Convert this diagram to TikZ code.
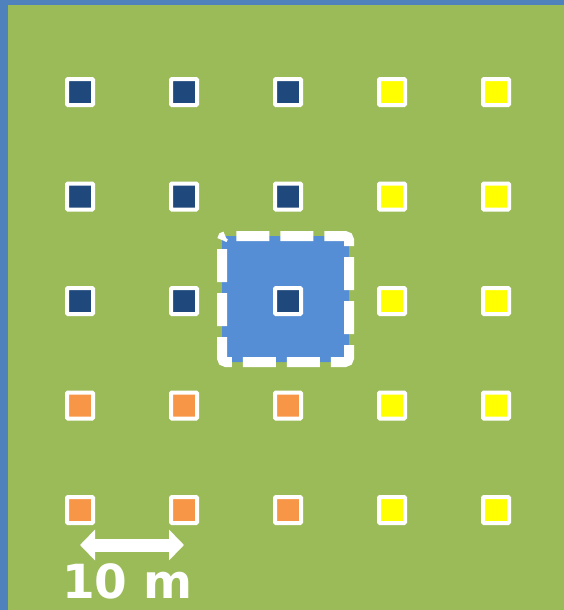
\documentclass[tikz,border=0pt]{standalone}
\usepackage{fontspec}
\setsansfont{DejaVu Sans}
\usetikzlibrary{arrows.meta}

\definecolor{fieldgreen}{HTML}{9BBB59}
\definecolor{frameblue}{HTML}{4F81BD}
\definecolor{plotblue}{HTML}{558ED5}
\definecolor{darkblue}{HTML}{1F497D}
\definecolor{plotorange}{HTML}{F79646}
\definecolor{plotyellow}{HTML}{FFFF00}

\tikzset{
  marker/.style={draw=white, line width=4pt, minimum size=26pt, inner sep=0pt,
    rounded corners=1pt, fill=#1},
  ruler/.style={white, line width=13pt,
    {Triangle[length=15pt,width=30pt]}-{Triangle[length=15pt,width=30pt]}}
}

\begin{document}
\begin{tikzpicture}[x=1pt, y=-1pt]
        % Background with frame
        \fill[frameblue] (0,0) rectangle (564,610);
        \fill[fieldgreen] (8,5) rectangle (564,610);

        % Highlighted plot
        \draw[white, line width=10pt, fill=plotblue, dash pattern=on 33pt off 11pt,
            dash phase=35pt, rounded corners=4pt] (222,236) rectangle (349,362);

        % Sampling points
        \foreach \r in {1,2,3}
            \foreach \c in {1,2,3}
                \node[marker=darkblue] (p-\r-\c) at ({80+104*(\c-1)}, {92+104.5*(\r-1)}) {};
        \foreach \r in {4,5}
            \foreach \c in {1,2,3}
                \node[marker=plotorange] (p-\r-\c) at ({80+104*(\c-1)}, {92+104.5*(\r-1)}) {};
        \foreach \r in {1,...,5}
            \foreach \c in {4,5}
                \node[marker=plotyellow] (p-\r-\c) at ({80+104*(\c-1)}, {92+104.5*(\r-1)}) {};

        % Scale bar
        \path (p-5-1.center) ++(0,35) coordinate (ruler-l);
        \path (p-5-2.center) ++(0,35) coordinate (ruler-r);
        \draw[ruler] (ruler-l) -- (ruler-r);
        \node[white, anchor=base, inner sep=0pt, text depth=0pt,
            font=\sffamily\bfseries\fontsize{47}{47}\selectfont]
            (scale-label) at (127.5,598) {10 m};
    \end{tikzpicture}
\end{document}
